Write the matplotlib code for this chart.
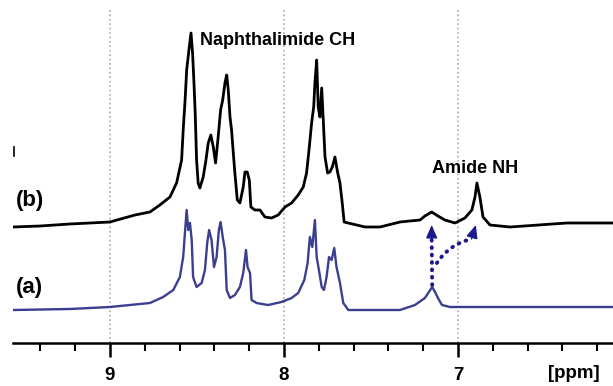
import numpy as np
import matplotlib.pyplot as plt

# spectrum (b): chemical shift [ppm] and intensity (arbitrary units)
ppm_b = [9.557, 9.402, 9.230, 9.000, 8.856, 8.770, 8.713, 8.655, 8.617, 8.588,
         8.579, 8.569, 8.559, 8.544, 8.534, 8.525, 8.517, 8.510, 8.502, 8.493,
         8.483, 8.464, 8.448, 8.435, 8.420, 8.406, 8.393, 8.378, 8.364, 8.352,
         8.339, 8.329, 8.320, 8.310, 8.301, 8.291, 8.282, 8.268, 8.253, 8.234,
         8.224, 8.211, 8.199, 8.190, 8.167, 8.138, 8.109, 8.071, 8.033, 7.994,
         7.956, 7.918, 7.889, 7.870, 7.856, 7.841, 7.829, 7.822, 7.812, 7.803,
         7.793, 7.783, 7.774, 7.764, 7.749, 7.736, 7.722, 7.707, 7.691, 7.678,
         7.665, 7.654, 7.631, 7.534, 7.448, 7.333, 7.218, 7.190, 7.151, 7.115,
         7.075, 7.017, 6.960, 6.920, 6.902, 6.891, 6.874, 6.856, 6.816, 6.701,
         6.374, 6.109]
int_b = [116, 117, 119, 121, 128, 131, 138, 146, 160, 183,
         213, 240, 273, 296, 310, 290, 260, 230, 183, 160,
         155, 166, 183, 200, 208, 196, 180, 206, 233, 243,
         260, 268, 253, 226, 213, 190, 170, 143, 140, 156,
         171, 171, 163, 136, 133, 133, 126, 125, 128, 136,
         140, 148, 156, 170, 193, 220, 236, 260, 283, 236,
         226, 255, 223, 186, 170, 171, 176, 186, 170, 160,
         140, 121, 120, 116, 116, 121, 123, 127, 131, 127,
         123, 120, 125, 133, 146, 160, 146, 126, 118, 116,
         120, 120]

# spectrum (a)
ppm_a = [9.557, 9.230, 9.000, 8.770, 8.694, 8.636, 8.598, 8.579, 8.569, 8.559,
         8.550, 8.540, 8.530, 8.522, 8.502, 8.473, 8.454, 8.441, 8.430, 8.416,
         8.402, 8.387, 8.374, 8.364, 8.352, 8.339, 8.329, 8.310, 8.282, 8.253,
         8.234, 8.218, 8.209, 8.195, 8.186, 8.157, 8.091, 8.014, 7.956, 7.918,
         7.883, 7.864, 7.851, 7.837, 7.822, 7.812, 7.799, 7.783, 7.770, 7.755,
         7.741, 7.726, 7.711, 7.698, 7.678, 7.659, 7.630, 7.553, 7.333, 7.247,
         7.190, 7.148, 7.132, 7.115, 7.092, 7.046, 6.759, 6.109]
int_a = [33, 34, 36, 40, 46, 53, 66, 86, 110, 133,
         113, 120, 103, 66, 56, 60, 73, 100, 113, 103,
         76, 86, 113, 121, 106, 93, 53, 45, 48, 56,
         70, 93, 76, 70, 43, 40, 38, 41, 45, 50,
         63, 80, 106, 96, 123, 86, 73, 56, 53, 66,
         86, 83, 95, 76, 60, 40, 33, 33, 33, 38,
         45, 56, 51, 45, 38, 36, 36, 36]

major_ticks = [9, 8, 7]
minor_ticks = [9.4, 9.2, 8.8, 8.6, 8.4, 8.2, 7.8, 7.6, 7.4, 7.2, 6.8, 6.6, 6.4, 6.2]

# amide NH: peak in (a) and the two peaks it moves to in (b)
amide_a = 7.148
amide_b = [7.151, 6.897]

font = ['Liberation Sans', 'DejaVu Sans']

fig = plt.figure(figsize=(6.13, 3.86), dpi=100)
ax = fig.add_axes([13 / 613, 43 / 386, 600 / 613, 333 / 386])

ax.plot(ppm_b, int_b, color='black', lw=2.0)
ax.plot(ppm_a, int_a, color='#3b3f8f', lw=1.7)

ax.set_xlim(9.557, 6.109)
ax.set_ylim(0, 333)

for spine in ['left', 'right', 'top']:
    ax.spines[spine].set_visible(False)
ax.spines['bottom'].set_linewidth(1.8)
ax.set_yticks([])
ax.set_xticks(major_ticks)
ax.set_xticks(minor_ticks, minor=True)
ax.set_xticklabels([str(t) for t in major_ticks], fontsize=13.5,
                   fontweight='bold', family=font)
ax.tick_params(axis='x', which='major', length=10, width=1.8, pad=7)
ax.tick_params(axis='x', which='minor', length=6, width=1.5)
ax.grid(axis='x', which='major', color='#aaaaaa', ls=':', lw=1.2)

ax.text(6.333, -30, '[ppm]', fontsize=13.5, fontweight='bold', family=font,
        ha='center', va='center', clip_on=False)

ax.text(8.483, 303, 'Naphthalimide CH', fontsize=13, fontweight='bold',
        family=font, ha='left', va='center')
ax.text(7.151, 175, 'Amide NH', fontsize=13, fontweight='bold',
        family=font, ha='left', va='center')
ax.text(9.540, 143, '(b)', fontsize=16, fontweight='bold', family=font,
        ha='left', va='center')
ax.text(9.540, 55, '(a)', fontsize=16, fontweight='bold', family=font,
        ha='left', va='center')

# small stray mark at left edge
ax.plot([0.002, 0.002], [0.562, 0.589], color='black', lw=1.2,
        transform=ax.transAxes, clip_on=False)

# dotted arrows: shaft drawn dotted, head drawn solid
arrow_col = '#1a1a8c'
dots = dict(arrowstyle='-', color=arrow_col, lw=2.8, ls=(0, (0.2, 1.7)),
            capstyle='round', shrinkA=0, shrinkB=0)
head = dict(arrowstyle='-|>,head_length=0.8,head_width=0.35', color=arrow_col,
            lw=1, shrinkA=0, shrinkB=0)

ax.annotate('', xy=(amide_b[0], 104), xytext=(amide_a, 58), arrowprops=dots)
ax.annotate('', xy=(amide_b[0], 118), xytext=(amide_b[0], 104), arrowprops=head)

ax.annotate('', xy=(6.922, 104), xytext=(7.121, 80),
            arrowprops=dict(dots, connectionstyle='arc3,rad=-0.2'))
ax.annotate('', xy=(amide_b[1], 118), xytext=(6.922, 104), arrowprops=head)

fig.savefig('out.png', dpi=100)
